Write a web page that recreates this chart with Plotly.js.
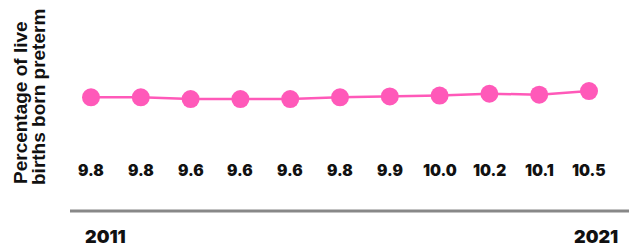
<!DOCTYPE html>
<html>
<head>
<meta charset="utf-8">
<script src="https://cdn.plot.ly/plotly-3.0.1.min.js"></script>
<style>html,body{margin:0;padding:0;background:#fff;}#chart{width:629px;height:249px;}</style>
</head>
<body>
<div id="chart"></div>
<script>
const years = [2011, 2012, 2013, 2014, 2015, 2016, 2017, 2018, 2019, 2020, 2021];
const preterm = [9.8, 9.8, 9.6, 9.6, 9.6, 9.8, 9.9, 10.0, 10.2, 10.1, 10.5];
const valueLabels = ["9.8", "9.8", "9.6", "9.6", "9.6", "9.8", "9.9", "10.0", "10.2", "10.1", "10.5"];
const yearLabels = ["2011", "2021"];
const yTitleLines = ["Percentage of live", "births born preterm"];

const pink = "#ff59b9";
const trace = {
  x: years, y: preterm, type: "scatter", mode: "lines+markers",
  line: {color: pink, width: 2.5},
  marker: {color: pink, size: 18},
  hoverinfo: "skip"
};

const heavy = "Inter, 'DejaVu Sans', sans-serif";
const annotations = years.map((yr, i) => ({
  x: yr, xref: "x", y: 1 - 170/249, yref: "paper",
  text: valueLabels[i], showarrow: false,
  font: {family: heavy, size: 15.5, color: "#111", weight: 900},
  xanchor: "center", yanchor: "middle"
}));
annotations.push({
  x: 105/629, xref: "paper", y: 1 - 236/249, yref: "paper",
  text: yearLabels[0], showarrow: false, xanchor: "center", yanchor: "middle",
  font: {family: heavy, size: 18, color: "#111", weight: 900}
});
annotations.push({
  x: 596/629, xref: "paper", y: 1 - 236/249, yref: "paper",
  text: yearLabels[1], showarrow: false, xanchor: "center", yanchor: "middle",
  font: {family: heavy, size: 18, color: "#111", weight: 900}
});
annotations.push({
  x: 20/629, xref: "paper", y: 1 - 103/249, yref: "paper",
  text: yTitleLines[0], showarrow: false, textangle: -90, xanchor: "center", yanchor: "middle",
  font: {family: "'Liberation Sans', Arial, sans-serif", size: 19, color: "#111", weight: 700}
});
annotations.push({
  x: 39/629, xref: "paper", y: 1 - 97/249, yref: "paper",
  text: yTitleLines[1], showarrow: false, textangle: -90, xanchor: "center", yanchor: "middle",
  font: {family: "'Liberation Sans', Arial, sans-serif", size: 19, color: "#111", weight: 700}
});

const layout = {
  width: 629, height: 249,
  margin: {l: 0, r: 0, t: 0, b: 0},
  paper_bgcolor: "#fff", plot_bgcolor: "#fff",
  showlegend: false,
  xaxis: {range: [2011 - 91/49.8, 2021 + 40/49.8], visible: false, fixedrange: true},
  yaxis: {range: [9.8 - (249-97.3)/8.9, 9.8 + 97.3/8.9], visible: false, fixedrange: true},
  shapes: [{type: "line", xref: "paper", yref: "paper", x0: 70/629, x1: 1, y0: 1 - 211/249, y1: 1 - 211/249,
            line: {color: "#888", width: 3}}],
  annotations: annotations
};

Plotly.newPlot("chart", [trace], layout, {displayModeBar: false, staticPlot: true});
</script>
</body>
</html>
